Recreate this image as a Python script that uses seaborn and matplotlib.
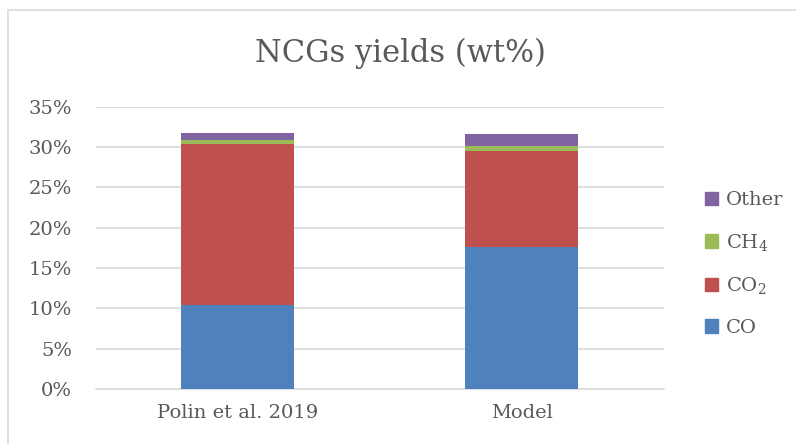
import matplotlib
matplotlib.use("Agg")
import matplotlib.pyplot as plt
import matplotlib.patches as mpatches
import numpy as np
import pandas as pd
import seaborn as sns

# Non-condensable gas yields (fraction of feed mass)
sources = ["Polin et al. 2019", "Model"]
co = [0.104, 0.176]
co2 = [0.200, 0.119]
ch4 = [0.005, 0.006]
other = [0.008, 0.015]

species = ["CO", "CO$_2$", "CH$_4$", "Other"]
colors = ["#4F81BD", "#C0504D", "#9BBB59", "#8064A2"]

sns.set_theme(style="white")
plt.rcParams["font.family"] = ["DejaVu Serif"]
plt.rcParams["mathtext.fontset"] = "dejavuserif"

text_color = "#595959"
grid_color = "#D9D9D9"

layers = np.array([co, co2, ch4, other])
cumulative = np.cumsum(layers, axis=0)

fig = plt.figure(figsize=(7.96, 4.44), dpi=100)
ax = fig.add_axes([95.5 / 796, 55 / 444, 568 / 796, 282.3 / 444])

# stacked bars: draw cumulative totals from the top layer down
for i in range(len(species) - 1, -1, -1):
    df = pd.DataFrame({"source": sources, "value": cumulative[i]})
    sns.barplot(data=df, x="source", y="value", color=colors[i],
                width=0.4, saturation=1, linewidth=0, ax=ax, zorder=3)

ax.set_ylim(0, 0.35)
ax.set_xlim(-0.5, 1.5)
yt = np.arange(0, 0.351, 0.05)
ax.set_yticks(yt)
ax.set_yticklabels([f"{int(round(v * 100))}%" for v in yt])
ax.yaxis.grid(True, color=grid_color, linewidth=1.2, zorder=0)
ax.set_axisbelow(True)
ax.tick_params(axis="both", length=0, labelsize=14, labelcolor=text_color)
ax.tick_params(axis="y", pad=17)
ax.tick_params(axis="x", pad=11)
ax.set_xlabel("")
ax.set_ylabel("")
for side in ["top", "right", "left"]:
    ax.spines[side].set_visible(False)
ax.spines["bottom"].set_color(grid_color)
ax.spines["bottom"].set_linewidth(1.2)

fig.text(0.503, 1 - 53 / 444, "NCGs yields (wt%)", ha="center", va="center",
         fontsize=22, color=text_color)

handles = [mpatches.Patch(color=colors[i], label=species[i])
           for i in range(len(species) - 1, -1, -1)]
leg = fig.legend(handles=handles, loc="center left",
                 bbox_to_anchor=(687 / 796, 1 - 264 / 444),
                 frameon=False, fontsize=14, labelcolor=text_color,
                 handlelength=0.7, handleheight=0.7, handletextpad=0.4,
                 labelspacing=1.15)

# outer chart border
fig.patches.append(mpatches.Rectangle((8 / 796, -0.1), 1.1, 1 - 10 / 444 + 0.1,
                                      transform=fig.transFigure, fill=False,
                                      edgecolor="#D9D9D9", linewidth=1.2))

fig.savefig("out.png", dpi=100)
